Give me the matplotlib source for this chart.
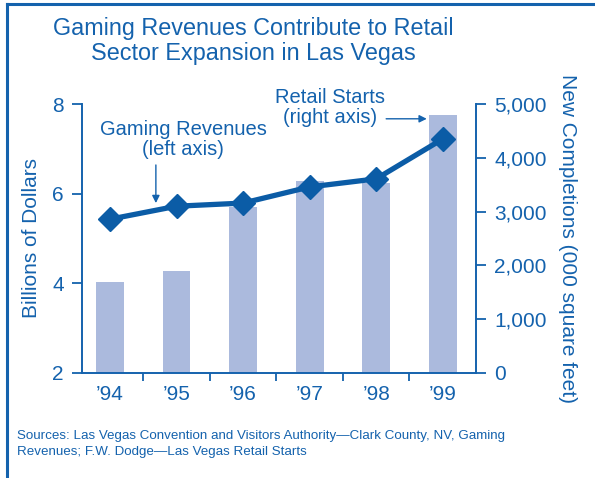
import matplotlib
matplotlib.use("Agg")
import matplotlib.pyplot as plt
from matplotlib.lines import Line2D
from matplotlib.ticker import FuncFormatter

plt.rcParams['font.family'] = ['Liberation Sans', 'DejaVu Sans']

# data
years = ["\u201994", "\u201995", "\u201996", "\u201997", "\u201998", "\u201999"]
gaming_revenues = [5.43, 5.72, 5.79, 6.15, 6.33, 7.22]   # billions of dollars (left axis)
retail_starts = [1690, 1900, 3090, 3570, 3540, 4800]     # 000 sq ft (right axis)

blue = '#1462ad'
line_blue = '#0b5ca6'
bar_color = '#abbadd'

fig = plt.figure(figsize=(5.95, 4.78), dpi=100)
W, H = 595, 478

# frame along top and left edge
fig.add_artist(Line2D([7 / W, 1], [1 - 4 / H, 1 - 4 / H], color=blue, lw=2.2, transform=fig.transFigure))
fig.add_artist(Line2D([7 / W, 7 / W], [0, 1 - 4 / H], color=blue, lw=2.2, transform=fig.transFigure))

ax = fig.add_axes([82 / W, (H - 373) / H, (476 - 82) / W, (373 - 104) / H])
ax2 = ax.twinx()
ax.set_zorder(ax2.get_zorder() + 1)
ax.patch.set_visible(False)

x = list(range(len(years)))
ax2.bar(x, retail_starts, width=0.42, color=bar_color, zorder=1)
ax.plot(x, gaming_revenues, color=line_blue, lw=3.8, marker='D', markersize=12,
        markerfacecolor=line_blue, markeredgecolor=line_blue, clip_on=False, zorder=5)

ax.set_xlim(-0.42, 5.5)
ax.set_ylim(2, 8)
ax2.set_ylim(0, 5000)

ax.set_yticks([2, 4, 6, 8])
ax2.set_yticks(range(0, 5001, 1000))
ax2.yaxis.set_major_formatter(FuncFormatter(lambda v, p: f"{int(v):,}"))

# category boundaries carry the ticks, labels sit at the centres
ax.set_xticks([0.5, 1.5, 2.5, 3.5, 4.5])
ax.set_xticklabels([])
ax.set_xticks(x, minor=True)
ax.set_xticklabels(years, minor=True)
ax.tick_params(axis='x', which='minor', length=0, pad=9, labelsize=15, labelcolor=blue)
ax.tick_params(axis='x', which='major', length=6, width=1.3, color=blue, direction='out')

for a in (ax, ax2):
    a.spines['top'].set_visible(False)
    for side in ('left', 'right', 'bottom'):
        a.spines[side].set_color(blue)
        a.spines[side].set_linewidth(1.4)

ax2.spines['left'].set_visible(False)
ax2.spines['bottom'].set_visible(False)
ax.spines['right'].set_visible(False)

ax.tick_params(axis='y', length=7, width=1.3, color=blue, labelcolor=blue, labelsize=15, pad=6)
ax2.tick_params(axis='y', length=7, width=1.3, color=blue, labelcolor=blue, labelsize=15, pad=6)

ax.set_ylabel("Billions of Dollars", color=blue, fontsize=15, labelpad=8)
ax2.set_ylabel("New Completions (000 square feet)", color=blue, fontsize=15,
               rotation=-90, labelpad=22)

fig.text(253 / W, 1 - 41 / H, "Gaming Revenues Contribute to Retail\nSector Expansion in Las Vegas",
         ha='center', va='center', color=blue, fontsize=16.8, linespacing=1.12)

# series annotations
ax.text(1.1, 7.2, "Gaming Revenues\n(left axis)", ha='center', va='center',
        color=blue, fontsize=14.5, linespacing=1.05)
ax.annotate("", xy=(0.69, 5.79), xytext=(0.69, 6.64),
            arrowprops=dict(arrowstyle='-|>', color=blue, lw=1.0, mutation_scale=11,
                            shrinkA=0, shrinkB=0))
ax.text(3.31, 7.92, "Retail Starts\n(right axis)", ha='center', va='center',
        color=blue, fontsize=14.5, linespacing=1.05)
ax.annotate("", xy=(4.76, 7.67), xytext=(4.15, 7.67),
            arrowprops=dict(arrowstyle='-|>', color=blue, lw=1.0, mutation_scale=11,
                            shrinkA=0, shrinkB=0))

fig.text(17 / W, 1 - 444 / H,
         "Sources: Las Vegas Convention and Visitors Authority\u2014Clark County, NV, Gaming\n"
         "Revenues; F.W. Dodge\u2014Las Vegas Retail Starts",
         ha='left', va='center', color=blue, fontsize=9.6, linespacing=1.35)

fig.savefig("out.png", dpi=100)
